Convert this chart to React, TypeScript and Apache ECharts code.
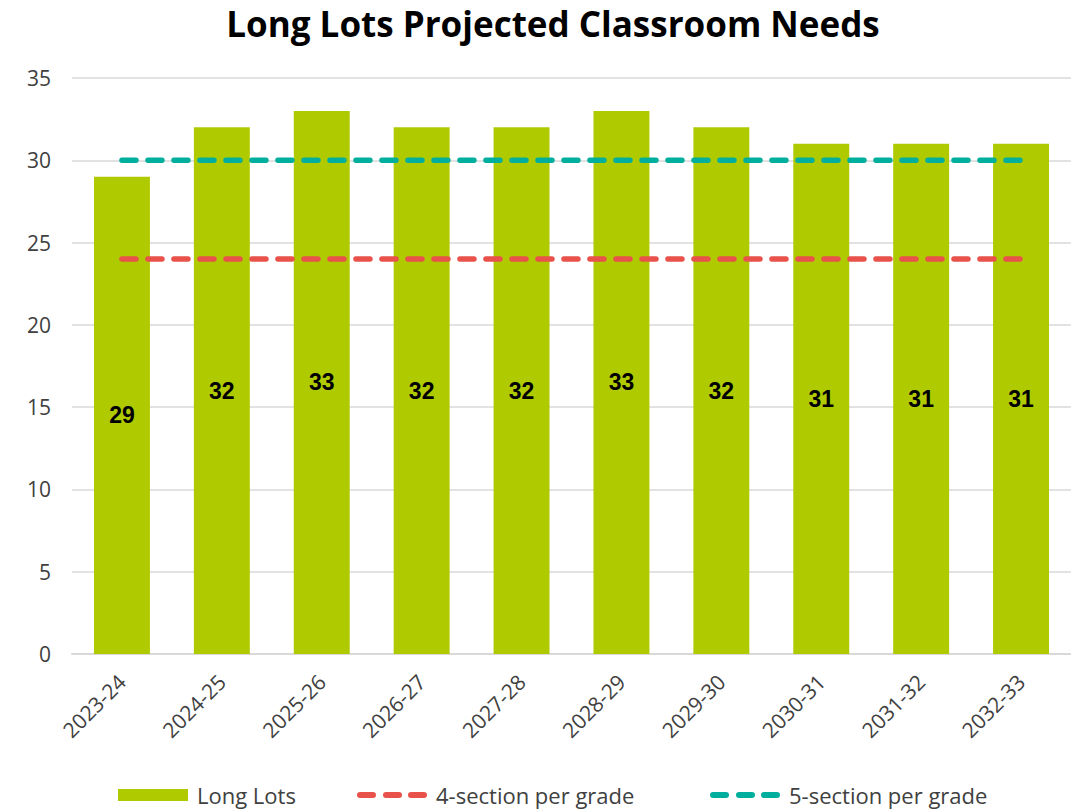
import React, { useEffect, useRef } from "react";
import * as echarts from "echarts";

const categories = ["2023-24", "2024-25", "2025-26", "2026-27", "2027-28", "2028-29", "2029-30", "2030-31", "2031-32", "2032-33"];
const longLots = [29, 32, 33, 32, 32, 33, 32, 31, 31, 31];
const fourSection = [24, 24, 24, 24, 24, 24, 24, 24, 24, 24];
const fiveSection = [30, 30, 30, 30, 30, 30, 30, 30, 30, 30];

const FONT = "'Open Sans', Lato, sans-serif";
const BAR_COLOR = "#b0ca00";
const RED = "#e8524a";
const TEAL = "#00ae9e";

function capsule(a: number) {
  return `M${a + 3} 3 L${a + 16} 3 A3 3 0 0 1 ${a + 16} 9 L${a + 3} 9 A3 3 0 0 1 ${a + 3} 3 Z `;
}
const DASH_ICON = "path://M0 0 M70 12 " + capsule(0) + capsule(26) + capsule(51);

function legendAt(left: number, name: string, icon: string, color: string) {
  return {
    left,
    top: 784,
    itemWidth: 70,
    itemHeight: 12,
    padding: 0,
    textStyle: { fontFamily: FONT, fontSize: 22, color: "#404040", padding: [0, 0, 0, 4] },
    data: [{ name, icon, itemStyle: { color } }],
  };
}

export default function App() {
  const ref = useRef<HTMLDivElement>(null);
  useEffect(() => {
    if (!ref.current) return;
    const chart = echarts.init(ref.current, undefined, { renderer: "svg" });
    chart.setOption({
      animation: false,
      backgroundColor: "#ffffff",
      title: {
        text: "Long Lots Projected Classroom Needs",
        left: 553,
        textAlign: "center",
        top: 0,
        padding: 0,
        textStyle: { fontFamily: FONT, fontWeight: "bold", fontSize: 35, color: "#000000", lineHeight: 46 },
      },
      grid: { left: 72, right: -4, top: 78, bottom: 158, containLabel: false },
      legend: [
        legendAt(118, "Long Lots", "rect", BAR_COLOR),
        legendAt(357, "4-section per grade", DASH_ICON, RED),
        legendAt(710, "5-section per grade", DASH_ICON, TEAL),
      ],
      xAxis: {
        type: "category",
        data: categories,
        boundaryGap: true,
        axisLine: { lineStyle: { color: "#d9d9d9", width: 2 } },
        axisTick: { show: false },
        axisLabel: {
          rotate: 45,
          fontFamily: FONT,
          fontSize: 21,
          color: "#404040",
          margin: 24,
          interval: 0,
        },
      },
      yAxis: {
        type: "value",
        min: 0,
        max: 35,
        interval: 5,
        axisLine: { show: false },
        axisTick: { show: false },
        splitLine: { lineStyle: { color: "#d9d9d9", width: 1.5 } },
        axisLabel: { fontFamily: FONT, fontSize: 21, color: "#404040", margin: 21 },
      },
      series: [
        {
          name: "Long Lots",
          type: "bar",
          data: longLots,
          barWidth: "56%",
          itemStyle: { color: BAR_COLOR },
          label: {
            show: true,
            position: "inside",
            fontFamily: "Arial, 'Liberation Sans', sans-serif",
            fontWeight: "bold",
            fontSize: 23,
            color: "#000000",
          },
        },
        {
          name: "4-section per grade",
          type: "line",
          data: fourSection,
          symbol: "none",
          itemStyle: { color: RED },
          lineStyle: { color: RED, width: 5.5, type: [14, 12], cap: "round" },
        },
        {
          name: "5-section per grade",
          type: "line",
          data: fiveSection,
          symbol: "none",
          itemStyle: { color: TEAL },
          lineStyle: { color: TEAL, width: 5.5, type: [14, 12], cap: "round" },
        },
      ],
    });
    return () => chart.dispose();
  }, []);
  return (
    <div
      ref={ref}
      style={{ position: "fixed", left: 0, top: 0, width: 1071, height: 812, background: "#fff" }}
    />
  );
}
